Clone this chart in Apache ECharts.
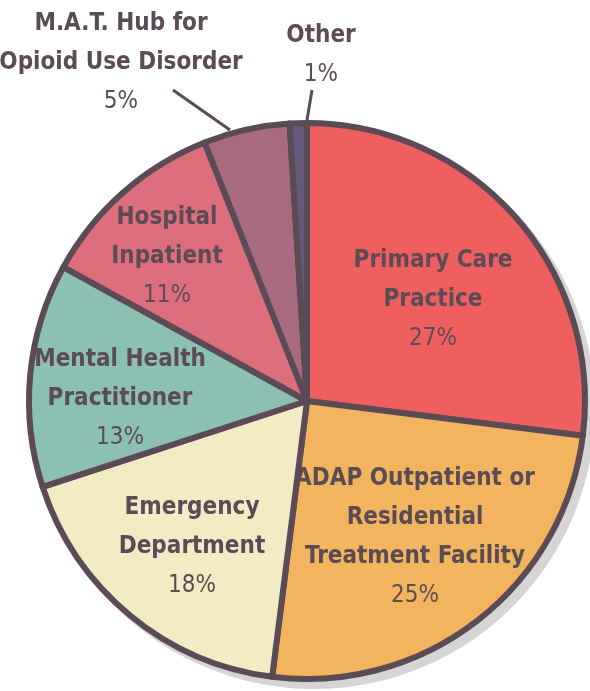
<!DOCTYPE html>
<html>
<head>
<meta charset="utf-8">
<script src="https://cdn.jsdelivr.net/npm/echarts@6/dist/echarts.min.js"></script>
<style>
html,body{margin:0;padding:0;background:#fff;}
#chart{width:590px;height:691px;}
</style>
</head>
<body>
<div id="chart"></div>
<script>
// categories, clockwise from 12 o'clock
var categories = [
  'Primary Care\nPractice',
  'ADAP Outpatient or\nResidential\nTreatment Facility',
  'Emergency\nDepartment',
  'Mental Health\nPractitioner',
  'Hospital\nInpatient',
  'M.A.T. Hub for\nOpioid Use Disorder',
  'Other'
];
var values = [27, 25, 18, 13, 11, 5, 1];
var colors = ['#f05f60', '#f3b45f', '#f2ebc4', '#8bc0b3', '#dc6f7b', '#a86a7f', '#66597b'];

// label placement (centre of each text block) + leader lines for the outside ones
var labelPos = [[433, 300], [415, 537], [192, 547], [120, 399], [167, 257], [121, 63], [321, 55]];
var leaderLines = {5: [[230, 130], [173, 90]], 6: [[307, 120], [312, 90]]};

var textColor = '#5b4b54';
var font = '"Liberation Sans Narrow", "DejaVu Sans Condensed", sans-serif';

var myChart = echarts.init(document.getElementById('chart'));

var pieData = categories.map(function(name, i) {
  var item = {
    name: name,
    value: values[i],
    itemStyle: {color: colors[i]}
  };
  if (leaderLines[i]) {
    item.label = {position: 'outside'};
    item.labelLine = {show: true, length: 10, length2: 0};
  }
  return item;
});

var option = {
  animation: false,
  series: [{
    // drop shadow behind the pie
    type: 'pie',
    silent: true,
    center: [314, 408],
    radius: 281,
    label: {show: false},
    itemStyle: {color: '#d7d4d6'},
    data: [1],
    z: 1
  }, {
    type: 'pie',
    center: [307, 401],
    radius: 278,
    startAngle: 90,
    clockwise: true,
    z: 2,
    itemStyle: {
      borderColor: textColor,
      borderWidth: 6
    },
    label: {
      show: true,
      position: 'inside',
      overflow: 'none',
      formatter: function(p) {
        var lines = p.name.split('\n').map(function(s) {
          return '{b|' + s + '}';
        });
        lines.push('{p|' + p.value + '%}');
        return lines.join('\n');
      },
      rich: {
        b: {
          fontFamily: font,
          fontWeight: 'bold',
          fontSize: 24,
          lineHeight: 39,
          color: textColor,
          align: 'center'
        },
        p: {
          fontFamily: font,
          fontSize: 24,
          lineHeight: 39,
          color: textColor,
          align: 'center'
        }
      }
    },
    labelLine: {
      show: false,
      lineStyle: {color: textColor, width: 3}
    },
    labelLayout: function(params) {
      var i = params.dataIndex;
      var pos = labelPos[i];
      var out = {
        x: pos[0],
        y: pos[1],
        align: 'center',
        verticalAlign: 'middle'
      };
      if (leaderLines[i]) {
        out.labelLinePoints = leaderLines[i].concat([leaderLines[i][1]]);
      }
      return out;
    },
    data: pieData
  }]
};

myChart.setOption(option);
</script>
</body>
</html>
